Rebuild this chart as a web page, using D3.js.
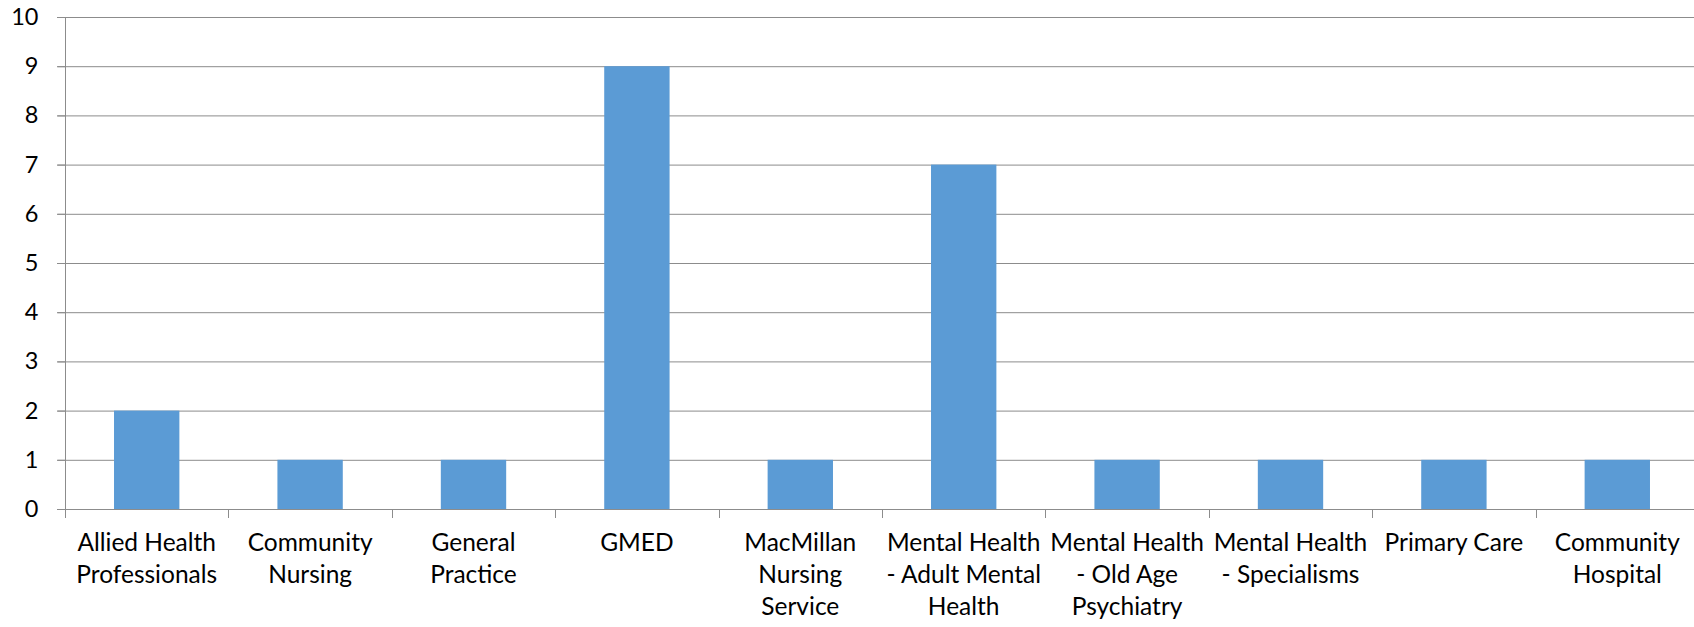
<!DOCTYPE html>
<html><head><meta charset="utf-8">
<script src="https://cdn.jsdelivr.net/npm/d3@7"></script>
<style>body{margin:0;background:#fff}svg{display:block}text{font-family:Lato,"Open Sans",sans-serif;fill:#000}</style>
</head><body><svg id="c" width="1694" height="627"></svg>
<script>
const categories = ["Allied Health\nProfessionals","Community\nNursing","General\nPractice","GMED","MacMillan\nNursing\nService","Mental Health\n- Adult Mental\nHealth","Mental Health\n- Old Age\nPsychiatry","Mental Health\n- Specialisms","Primary Care","Community\nHospital"];
const values = [2,1,1,9,1,7,1,1,1,1];
const yTicks = [0,1,2,3,4,5,6,7,8,9,10];

(function(){
const svg = d3.select("#c");
const pL = 65, pR = 1699, pT = 17, pB = 509;
const x = d3.scaleBand().domain(categories).range([pL, pR]).paddingInner(0.6).paddingOuter(0.3);
const y = d3.scaleLinear().domain([0,10]).range([pB, pT]);

svg.append("g").selectAll("line").data(yTicks).join("line")
  .attr("x1", pL-8).attr("x2", pR).attr("y1", d=>y(d)+0.5).attr("y2", d=>y(d)+0.5)
  .attr("stroke", "#8c8c8c").attr("stroke-width", 1);

svg.append("g").selectAll("rect").data(values).join("rect")
  .attr("x", (d,i)=>x(categories[i])).attr("width", x.bandwidth())
  .attr("y", d=>y(d)).attr("height", d=>pB-y(d)).attr("fill", "#5b9bd5");

const yAxis = svg.append("g").attr("transform", `translate(${pL+0.5},0)`)
  .call(d3.axisLeft(y).tickValues(yTicks).tickSize(8).tickPadding(19).tickFormat(d3.format("d")));
yAxis.select(".domain").attr("stroke", "#8c8c8c").attr("d", `M0,${pT}V${pB+9}`);
yAxis.selectAll(".tick line").attr("stroke", "#8c8c8c");
yAxis.selectAll("text").attr("font-size", 23.5).attr("font-family", "Lato").attr("fill","#000");

const bounds = d3.range(categories.length+1).map(i => pL + i*(pR-pL)/categories.length);
svg.append("g").selectAll("line").data(bounds).join("line")
  .attr("x1", d=>Math.round(d)+0.5).attr("x2", d=>Math.round(d)+0.5).attr("y1", pB).attr("y2", pB+9)
  .attr("stroke", "#8c8c8c");
svg.append("line").attr("x1", pL).attr("x2", pR).attr("y1", pB+0.5).attr("y2", pB+0.5).attr("stroke", "#8c8c8c");

const lab = svg.append("g").selectAll("text").data(categories).join("text")
  .attr("text-anchor", "middle").attr("font-size", 24.5)
  .attr("transform", d=>`translate(${x(d)+x.bandwidth()/2},${pB+42})`);
lab.each(function(d){
  const t = d3.select(this);
  d.split("\n").forEach((s,i)=>t.append("tspan").attr("x",0).attr("y", i*32).text(s));
});
})();
</script></body></html>
